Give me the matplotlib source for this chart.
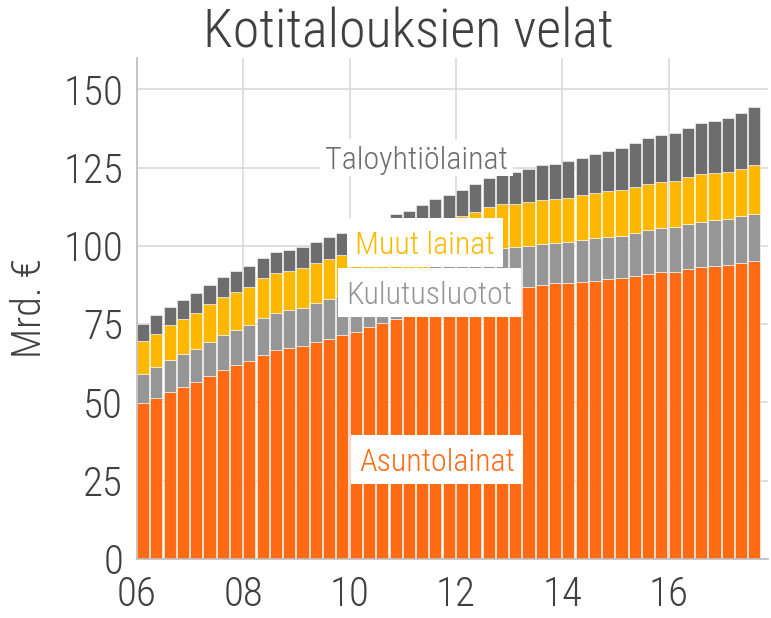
import numpy as np
import matplotlib
matplotlib.use("Agg")
import matplotlib.pyplot as plt
from matplotlib.patches import Rectangle

plt.rcParams['font.family'] = ['Roboto Condensed', 'Roboto', 'DejaVu Sans']
plt.rcParams['font.weight'] = 'light'
plt.rcParams['axes.labelweight'] = 'light'

# Quarterly data 2006Q1 .. 2017Q3 (mrd. €)
start_year = 2006
asuntolainat = [49.7, 51.5, 53.4, 55.0, 56.5, 58.6, 60.3, 61.8, 63.2, 65.2,
                66.6, 67.3, 67.9, 69.3, 70.4, 71.5, 72.4, 74.0, 75.4, 76.5,
                77.8, 79.1, 80.5, 81.6, 82.8, 84.0, 85.2, 86.3, 86.7, 86.9,
                87.5, 88.0, 88.0, 88.5, 88.8, 89.3, 89.6, 90.3, 91.0, 91.5,
                91.8, 92.6, 93.1, 93.6, 93.8, 94.5, 95.2]
kulutusluotot = [9.3, 9.9, 10.2, 10.4, 10.6, 10.8, 11.1, 11.4, 11.5, 11.8,
                 12.0, 12.1, 12.2, 12.4, 12.5, 12.6, 12.6, 12.7, 12.7, 12.8,
                 12.8, 12.9, 13.0, 13.0, 13.0, 13.1, 13.1, 13.1, 13.0, 13.1,
                 13.0, 13.0, 13.3, 13.5, 13.8, 13.6, 13.6, 13.9, 14.0, 14.3,
                 14.1, 14.3, 14.6, 14.6, 14.7, 15.0, 15.1]
muut_lainat = [10.6, 10.6, 11.0, 11.4, 11.6, 11.9, 12.2, 12.1, 12.3, 12.6,
               12.7, 12.5, 12.7, 12.8, 13.0, 12.9, 13.5, 13.3, 13.4, 13.4,
               12.9, 13.3, 13.4, 13.5, 13.6, 13.8, 14.0, 13.9, 13.8, 14.1,
               14.3, 14.1, 14.1, 14.4, 14.4, 14.6, 14.6, 14.6, 14.7, 14.5,
               14.9, 15.0, 15.1, 15.0, 15.2, 15.2, 15.5]
taloyhtiolainat = [5.3, 5.8, 5.8, 6.0, 6.1, 6.2, 6.4, 6.6, 6.6, 6.5,
                   6.8, 6.9, 6.7, 6.6, 6.9, 7.0, 7.1, 7.3, 7.4, 7.6,
                   7.7, 7.9, 8.1, 8.3, 8.4, 9.0, 9.4, 9.5, 10.1, 10.5,
                   10.9, 11.2, 11.6, 11.8, 12.5, 12.8, 13.5, 14.2, 14.8, 15.2,
                   15.2, 15.7, 16.4, 16.8, 17.1, 17.6, 18.4]

tick_years = [2006, 2008, 2010, 2012, 2014, 2016]
tick_labels = ["06", "08", "10", "12", "14", "16"]
y_ticks = [0, 25, 50, 75, 100, 125, 150]

c_orange = "#ff6a13"
c_gray = "#969696"
c_yellow = "#ffb800"
c_dark = "#6d6d6d"
c_text = "#404040"

W, H = 771, 618
fig = plt.figure(figsize=(W / 100, H / 100), dpi=100)
ax = fig.add_axes([137/W, 1-559/H, (768-137)/W, (559-58)/H])

n = len(asuntolainat)
x = start_year + np.arange(n) / 4.0
a = np.array(asuntolainat)
k = np.array(kulutusluotot)
m = np.array(muut_lainat)
t = np.array(taloyhtiolainat)

w = 0.228
kw = dict(width=w, align='edge', edgecolor='white', linewidth=0.4, zorder=2)
ax.bar(x, a, color=c_orange, **kw)
ax.bar(x, k, bottom=a, color=c_gray, **kw)
ax.bar(x, m, bottom=a + k, color=c_yellow, **kw)
ax.bar(x, t, bottom=a + k + m, color=c_dark, **kw)

ax.set_xlim(2006, 2017.87)
ax.set_ylim(0, 160)
ax.set_xticks(tick_years)
ax.set_xticklabels(tick_labels)
ax.set_yticks(y_ticks)
ax.grid(True, color="#d9d9d9", linewidth=1.2, zorder=0)
ax.set_axisbelow(True)
for s in ['top', 'right']:
    ax.spines[s].set_visible(False)
for s in ['left', 'bottom']:
    ax.spines[s].set_color("#bdbdbd")
    ax.spines[s].set_linewidth(1.2)
ax.tick_params(axis='both', length=0, labelsize=29.5, colors=c_text)
ax.tick_params(axis='y', pad=10)
ax.tick_params(axis='x', pad=12)
ax.set_ylabel("Mrd. €", fontsize=29, color=c_text, labelpad=10)

fig.text(408/W, 1-47/H, "Kotitalouksien velat", ha='center', va='baseline',
         fontsize=39, color=c_text)

# series labels with white boxes (pixel boxes: x0, y0_top, x1, y1_bottom)
def label(box, s, color):
    x0, y0, x1, y1 = box
    rect = Rectangle((x0 / W, 1 - y1 / H), (x1 - x0) / W, (y1 - y0) / H,
                     transform=fig.transFigure, facecolor='white',
                     edgecolor='none', zorder=4, clip_on=False)
    ax.add_patch(rect)
    ax.text((x0 + x1) / 2 / W, 1 - (y0 + y1) / 2 / H, s, transform=fig.transFigure,
            ha='center', va='center_baseline', fontsize=23, color=color, zorder=5)

label((320, 139, 513, 176), "Taloyhtiölainat", c_dark)
label((347, 218, 503, 267), "Muut lainat", c_yellow)
label((338, 268, 521, 317), "Kulutusluotot", c_gray)
label((351, 435, 523, 484), "Asuntolainat", c_orange)

fig.savefig("out.png", dpi=100)
